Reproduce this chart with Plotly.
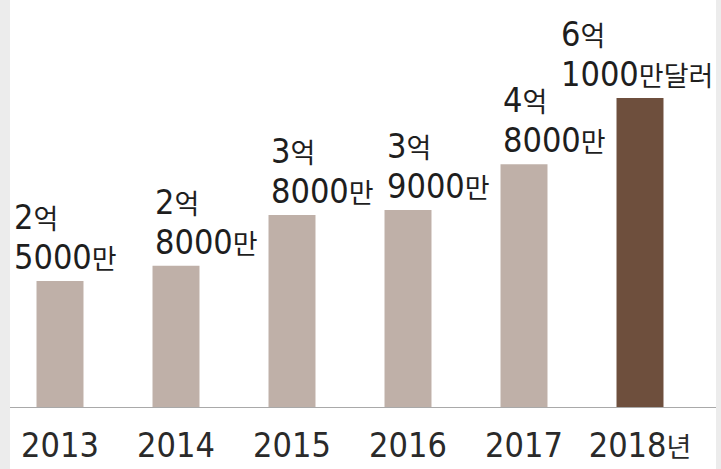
import plotly.graph_objects as go

years = ["2013", "2014", "2015", "2016", "2017", "2018년"]
values = [2.5, 2.8, 3.8, 3.9, 4.8, 6.1]  # 억 달러
label_num_top = ["2", "2", "3", "3", "4", "6"]
label_num_bottom = ["5000", "8000", "8000", "9000", "8000", "1000"]
unit_top = "억"
unit_bottom = ["만", "만", "만", "만", "만", "만달러"]

LIGHT = "#bfb0a8"
DARK = "#6e4f3d"
colors = [LIGHT] * (len(years) - 1) + [DARK]
FONT = "Liberation Sans Narrow, DejaVu Sans Condensed, Noto Sans CJK KR, sans-serif"
FS = 34
KFS = 27

W, H = 721, 469
ML, MR, MT, MB = 2, 23, 0, 61
PW = W - ML - MR


def k(s):
    return f'<span style="font-size:{KFS}px">{s}</span>'


fig = go.Figure(go.Bar(x=years, y=values, marker=dict(color=colors, line=dict(width=0)),
                       hoverinfo="skip"))

xshifts = [-25, 0, 0, 0, 0, -58]
for i, v in enumerate(values):
    fig.add_annotation(x=i, y=v, text=label_num_bottom[i] + k(unit_bottom[i]), showarrow=False,
                       xanchor="left", yanchor="bottom", xshift=-23.5 + xshifts[i], yshift=2,
                       font=dict(family=FONT, size=FS, color="#1e1e1e"))
    fig.add_annotation(x=i, y=v, text=label_num_top[i] + k(unit_top), showarrow=False,
                       xanchor="left", yanchor="bottom", xshift=-23.5 + xshifts[i], yshift=42,
                       font=dict(family=FONT, size=FS, color="#1e1e1e"))

# side gray strips
fig.add_shape(type="rect", xref="paper", yref="paper", x0=(0 - ML) / PW, x1=(10 - ML) / PW,
              y0=-MB / (H - MB), y1=1, fillcolor="#ececec", line=dict(width=0), layer="below")
fig.add_shape(type="rect", xref="paper", yref="paper", x0=(716 - ML) / PW, x1=(W - ML) / PW,
              y0=-MB / (H - MB), y1=1, fillcolor="#ececec", line=dict(width=0), layer="below")
# baseline
fig.add_shape(type="line", xref="paper", yref="y", x0=(10 - ML) / PW, x1=(716 - ML) / PW,
              y0=0, y1=0, line=dict(color="#a9a9a9", width=2))

tick_text = [y[:4] + k(y[4:]) if len(y) > 4 else y for y in years]

fig.update_layout(
    width=W, height=H, margin=dict(l=ML, r=MR, t=MT, b=MB),
    paper_bgcolor="white", plot_bgcolor="white",
    bargap=0.595, showlegend=False,
    xaxis=dict(type="category", range=[-0.5, len(years) - 0.5], autorange=False,
               tickvals=years, ticktext=tick_text,
               showgrid=False, zeroline=False, showline=False,
               ticks="outside", ticklen=7, tickcolor="rgba(0,0,0,0)",
               tickfont=dict(family=FONT, size=FS, color="#2a2a2a")),
    yaxis=dict(range=[0, 408 / 50.8], autorange=False, visible=False,
               showgrid=False, zeroline=False),
)

fig.write_html("out.html")
